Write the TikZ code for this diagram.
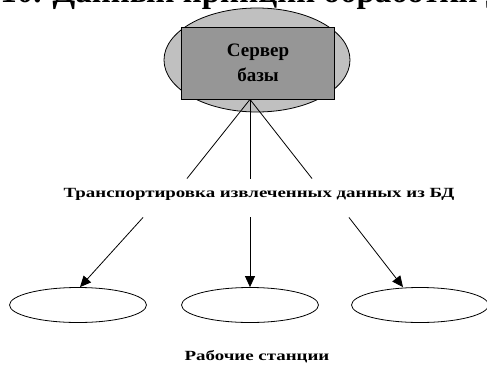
\documentclass[tikz,border=0pt]{standalone}
\usepackage{fontspec}
\usepackage{graphicx}
\setmainfont{Liberation Serif}
\usetikzlibrary{arrows.meta,shapes.geometric}
\definecolor{lgray}{HTML}{C0C0C0}
\definecolor{dgray}{HTML}{969696}

\begin{document}
\begin{tikzpicture}[x=1pt, y=-1pt, line width=0.8pt, >={Triangle[length=11pt,width=10pt]},
    ws/.style={draw, ellipse, minimum width=137pt, minimum height=35pt, inner sep=0pt}]
    \useasboundingbox (0,0) rectangle (487,367);
    \node[anchor=base west, inner sep=0pt, font=\bfseries\fontsize{33}{33}\selectfont] (title) at (0,2) {10. Данный принцип обработки данных};
    % server
    \node[draw, ellipse, fill=lgray, minimum width=186pt, minimum height=104pt, inner sep=0pt] (srv) at (257,60) {};
    \node[draw, fill=dgray, minimum width=153pt, minimum height=72pt, inner sep=0pt, align=center,
      font=\bfseries\fontsize{19}{25}\selectfont] (srvbox) at (258,63) {Сервер\\базы};
    \node[inner sep=0pt, font=\bfseries\fontsize{14}{14}\selectfont] (transp) at (259,194)
      {\scalebox{1.35}[1]{Транспортировка извлеченных данных из БД}};
    \draw ([xshift=-8pt]srvbox.south) -- ([xshift=-72pt,yshift=9pt]transp.north);
    \draw ([xshift=-8pt]srvbox.south) -- ([xshift=-9pt,yshift=9pt]transp.north);
    \draw ([xshift=-8pt]srvbox.south) -- ([xshift=53pt,yshift=9pt]transp.north);
    % workstations
    \node[ws] (ws1) at (78,305) {};
    \node[ws] (ws2) at (250,305) {};
    \node[ws] (ws3) at (420,305) {};
    \draw[->] ([xshift=-116pt,yshift=-17pt]transp.south) -- ([xshift=2pt]ws1.north);
    \draw[->] ([xshift=-9pt,yshift=-17pt]transp.south) -- (ws2.north);
    \draw[->] ([xshift=90pt,yshift=-17pt]transp.south) -- ([xshift=-17pt]ws3.north);
    \node[inner sep=0pt, font=\bfseries\fontsize{14}{14}\selectfont] (wslabel) at (257,357)
      {\scalebox{1.35}[1]{Рабочие станции}};
\end{tikzpicture}
\end{document}
